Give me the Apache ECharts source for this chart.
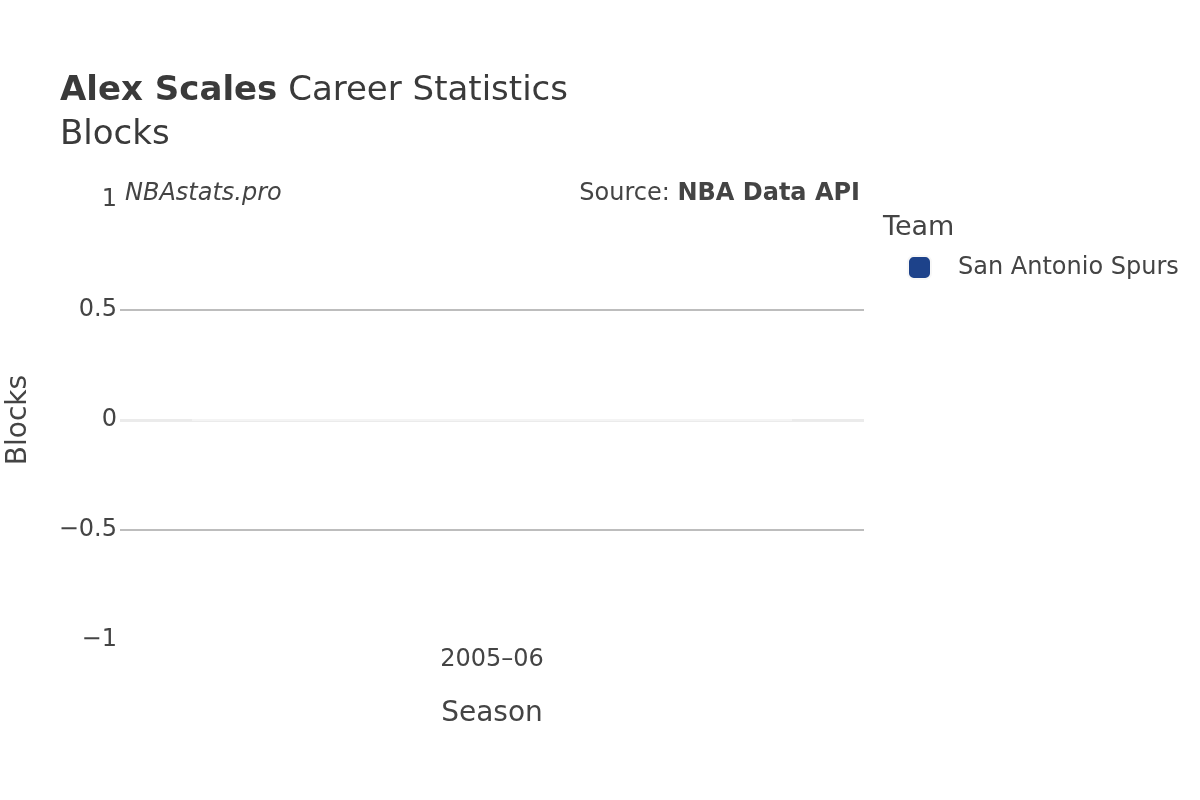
<!DOCTYPE html>
<html>
<head>
<meta charset="utf-8">
<script src="https://cdn.jsdelivr.net/npm/echarts@6/dist/echarts.min.js"></script>
<style>html,body{margin:0;padding:0;background:#fff}#c{width:1200px;height:800px}</style>
</head>
<body>
<div id="c"></div>
<script>
var seasons = ['2005–06'];
var teamName = 'San Antonio Spurs';
var blocks = [0];
var yTicks = [-1, -0.5, 0, 0.5, 1];

var FONT = 'DejaVu Sans';
var TXT = '#444';
var chart = echarts.init(document.getElementById('c'), null, {renderer: 'canvas'});
chart.setOption({
  backgroundColor: '#fff',
  animation: false,
  textStyle: {fontFamily: FONT},
  grid: {left: 120, right: 336, top: 200, bottom: 160, containLabel: false, outerBoundsMode: 'none'},
  legend: {
    show: true,
    data: [teamName],
    left: 902, top: 250,
    orient: 'vertical',
    icon: 'roundRect',
    itemWidth: 23, itemHeight: 23, itemGap: 10,
    textStyle: {fontFamily: FONT, fontSize: 24, color: TXT, padding: [0, 0, 0, 22]}
  },
  xAxis: {
    type: 'category',
    data: seasons,
    name: 'Season',
    nameLocation: 'middle',
    nameGap: 60,
    nameTextStyle: {fontFamily: FONT, fontSize: 28, color: TXT},
    axisLine: {show: false, onZero: false},
    axisTick: {show: false},
    axisLabel: {fontFamily: FONT, fontSize: 24, color: TXT, margin: 8},
    splitLine: {show: false}
  },
  yAxis: {
    type: 'value',
    min: yTicks[0], max: yTicks[yTicks.length - 1], interval: 0.5,
    name: 'Blocks',
    nameLocation: 'middle',
    nameGap: 87,
    nameTextStyle: {fontFamily: FONT, fontSize: 28, color: TXT},
    axisLine: {show: false},
    axisTick: {show: false},
    axisLabel: {
      fontFamily: FONT, fontSize: 24, color: TXT, margin: 3, padding: [4, 0, 0, 0],
      formatter: function (v) { return String(v).replace('-', '\u2212'); }
    },
    splitLine: {show: true, lineStyle: {color: ['rgba(0,0,0,0)', '#bdbdbd', 'rgba(0,0,0,0)', '#bdbdbd', 'rgba(0,0,0,0)'], width: 2}}
  },
  series: [{
    name: teamName,
    type: 'bar',
    data: blocks,
    barWidth: 600,
    itemStyle: {color: '#1d428a', borderColor: '#f7f7f7', borderWidth: 1},
    markLine: {
      silent: true,
      symbol: 'none',
      label: {show: false},
      lineStyle: {color: '#ebebeb', width: 3, type: 'solid'},
      data: [{yAxis: 0}],
      z: 1
    },
    z: 3
  }],
  graphic: [
    {type: 'text', left: 60, top: 74, style: {
      rich: {b: {fontFamily: FONT, fontSize: 34, fontWeight: 'bold', fill: '#3a3a3a'}, n: {fontFamily: FONT, fontSize: 34, fill: '#3a3a3a'}},
      text: '{b|Alex Scales}{n| Career Statistics}'
    }},
    {type: 'text', left: 60, top: 118, style: {text: 'Blocks', fontFamily: FONT, fontSize: 34, fill: '#3a3a3a'}},
    {type: 'text', left: 125, top: 182, style: {text: 'NBAstats.pro', fontFamily: FONT, fontSize: 24, fontStyle: 'italic', fill: TXT}},
    {type: 'text', right: 340, top: 182, style: {
      rich: {n: {fontFamily: FONT, fontSize: 24, fill: TXT}, b: {fontFamily: FONT, fontSize: 24, fontWeight: 'bold', fill: TXT}},
      text: '{n|Source: }{b|NBA Data API}'
    }},
    {type: 'text', left: 883, top: 214, style: {text: 'Team', fontFamily: FONT, fontSize: 27, fill: TXT}}
  ]
});
</script>
</body>
</html>
